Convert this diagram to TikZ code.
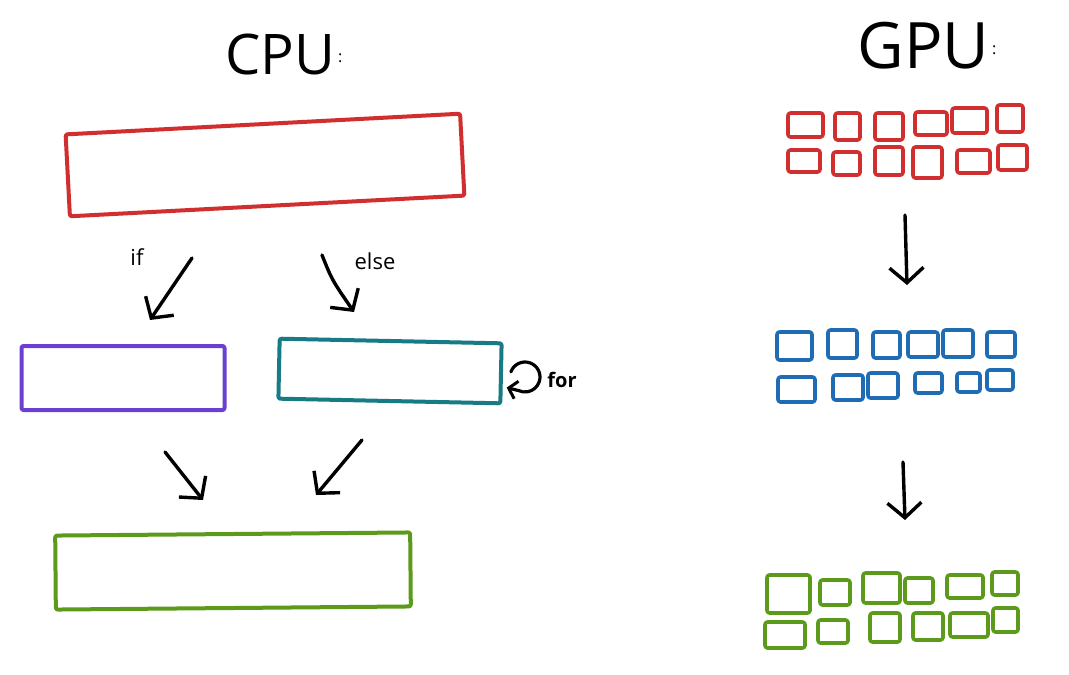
\documentclass[tikz,border=0pt]{standalone}
\usepackage{fontspec}
\setmainfont{Open Sans}
\usetikzlibrary{arrows.meta,calc}
\definecolor{cred}{HTML}{D12F2F}
\definecolor{cpurple}{HTML}{6B3FD0}
\definecolor{cteal}{HTML}{177A85}
\definecolor{cgreen}{HTML}{5B9A1B}
\definecolor{cblue}{HTML}{1F6CB5}
\tikzset{
  box/.style={draw=#1, line width=4, rounded corners=2, inner sep=0, line join=round},
  cell/.style={draw=#1, line width=3.6, rounded corners=2.5, line cap=round, line join=round},
  arr/.style={line width=3.4, line cap=round, -{Straight Barb[length=15,width=34,line width=3.4]}},
  lbl/.style={font=\fontsize{22}{24}\selectfont, inner sep=0},
  title/.style={font=\fontsize{#1}{#1}\selectfont, inner sep=0},
}
\begin{document}
\begin{tikzpicture}[x=1pt,y=-1pt]
\useasboundingbox (0,0) rectangle (1069,675);
\fill[white] (0,0) rectangle (1069,675);
% titles
\node[title=56] (cpu) at (284,54) {CPU\raisebox{12pt}{\fontsize{16}{16}\selectfont\,:}};
\node[title=64] (gpu) at (927,46) {GPU\raisebox{14pt}{\fontsize{16}{16}\selectfont\,:}};
% CPU boxes
\node[box=cred, minimum width=395, minimum height=82, rotate=3] (main) at (265,165) {};
\node[box=cpurple, minimum width=203, minimum height=64] (ifbox) at (123,378) {};
\node[box=cteal, minimum width=222, minimum height=60, rotate=-1.2] (elsebox) at (390,371) {};
\node[box=cgreen, minimum width=355, minimum height=74, rotate=0.5] (merge) at (233,571) {};
% CPU arrows
\coordinate (a1s) at (192,258); \coordinate (a1e) at (150,320);
\draw[arr] (a1s) -- (a1e);
\node[lbl] (iflbl) at (137,257) {if};
\coordinate (a2s) at (322,255); \coordinate (a2e) at (354,312);
\draw[arr] (a2s) .. controls (332,280) .. (a2e);
\node[lbl] (elselbl) at (375,261) {else};
\coordinate (a3s) at (165,452); \coordinate (a3e) at (203,500);
\draw[arr] (a3s) -- (a3e);
\coordinate (a4s) at (362,440); \coordinate (a4e) at (316,495);
\draw[arr] (a4s) -- (a4e);
% loop
\coordinate (loopc) at (525,377);
\draw[line width=3.2, line cap=round, -{Straight Barb[length=8,width=18,line width=3]}]
  ($(loopc)+(-160:15)$) arc[start angle=-160, end angle=115, radius=15] -- ++(-12,-3);
\node[lbl, font=\fontsize{20}{22}\selectfont\bfseries] (forlbl) at (562,380) {for};
% GPU arrows
\coordinate (g1s) at (905,215); \coordinate (g1e) at (907,285);
\draw[arr] (g1s) -- (g1e);
\coordinate (g2s) at (903,462); \coordinate (g2e) at (905,520);
\draw[arr] (g2s) -- (g2e);
% GPU red grid
\foreach \a/\b/\c/\d in {788/113/823/137, 835/113/860/140, 875/113/903/140, 915/112/947/135, 952/108/987/133, 997/105/1023/132,
  788/150/820/172, 833/152/860/175, 875/147/903/175, 913/147/942/178, 957/150/990/173, 998/145/1027/170}
  \draw[cell=cred] (\a,\b) rectangle (\c,\d);
% GPU blue grid
\foreach \a/\b/\c/\d in {777/332/812/360, 828/330/857/358, 873/332/900/358, 908/332/938/357, 943/330/973/357, 987/332/1015/357,
  778/377/815/402, 833/375/863/400, 868/373/898/398, 915/373/942/393, 957/373/980/392, 987/370/1013/390}
  \draw[cell=cblue] (\a,\b) rectangle (\c,\d);
% GPU green grid
\foreach \a/\b/\c/\d in {767/575/810/613, 820/580/850/605, 863/573/900/603, 905/578/933/603, 947/575/983/598, 992/572/1018/595,
  765/622/805/648, 818/620/848/643, 870/613/900/642, 913/613/943/640, 950/613/988/637, 993/608/1018/632}
  \draw[cell=cgreen] (\a,\b) rectangle (\c,\d);
\end{tikzpicture}
\end{document}
